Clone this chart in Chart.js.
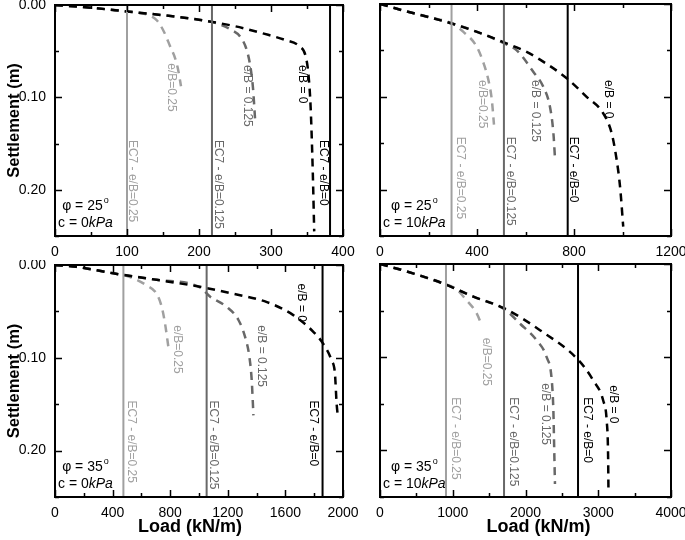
<!DOCTYPE html>
<html>
<head>
<meta charset="utf-8">
<script src="https://cdn.jsdelivr.net/npm/chart.js@4.4.0/dist/chart.umd.min.js"></script>
<style>
  html, body { margin: 0; padding: 0; background: #fff; }
  #wrap { position: relative; width: 685px; height: 540px; }
  canvas { position: absolute; }
</style>
</head>
<body>
<div id="wrap">
  <canvas id="tl" width="365" height="260" style="left:0;top:0"></canvas>
  <canvas id="tr" width="320" height="260" style="left:365px;top:0"></canvas>
  <canvas id="bl" width="365" height="280" style="left:0;top:260px"></canvas>
  <canvas id="br" width="320" height="280" style="left:365px;top:260px"></canvas>
</div>
<script>
const FONT = '"Liberation Sans", Arial, Helvetica, sans-serif';
Chart.defaults.font.family = FONT;
Chart.defaults.color = '#000';

// ---- data (load kN/m, settlement m) ----
// phi = 25, c = 0 kPa
const p25c0Load0 = [0, 50, 100, 150, 200, 250, 290, 320, 340, 348, 352, 355, 358, 360];
const p25c0Set0 = [0, 0.003, 0.007, 0.011, 0.016, 0.023, 0.031, 0.038, 0.045, 0.055, 0.075, 0.11, 0.18, 0.245];
const p25c0Load125 = [0, 50, 100, 150, 200, 225, 245, 258, 266, 271, 275, 278];
const p25c0Set125 = [0, 0.003, 0.007, 0.011, 0.016, 0.020, 0.027, 0.035, 0.048, 0.065, 0.09, 0.125];
const p25c0Load25 = [0, 50, 100, 130, 142, 152, 160, 167, 171, 175];
const p25c0Set25 = [0, 0.003, 0.007, 0.011, 0.017, 0.030, 0.045, 0.058, 0.070, 0.088];
const p25c0Ec7 = [382, 218, 100]; // e/B = 0, 0.125, 0.25

// phi = 25, c = 10 kPa
const p25c10Load0 = [0, 110, 200, 296, 400, 508, 600, 660, 770, 852, 921, 955, 976, 990, 1003];
const p25c10Set0 = [0, 0.008, 0.014, 0.021, 0.030, 0.041, 0.051, 0.060, 0.080, 0.100, 0.118, 0.139, 0.168, 0.197, 0.240];
const p25c10Load125 = [0, 110, 200, 296, 400, 508, 564, 632, 673, 701, 715, 722];
const p25c10Set125 = [0, 0.008, 0.014, 0.021, 0.030, 0.042, 0.050, 0.073, 0.089, 0.111, 0.139, 0.168];
const p25c10Load25 = [0, 110, 200, 296, 344, 399, 426, 447, 461, 470];
const p25c10Set25 = [0, 0.008, 0.014, 0.021, 0.030, 0.046, 0.063, 0.082, 0.103, 0.130];
const p25c10Ec7 = [774, 511, 295];

// phi = 35, c = 0 kPa
const p35c0Load0 = [0, 150, 405, 706, 1007, 1238, 1472, 1655, 1794, 1863, 1921, 1944, 1956, 1965];
const p35c0Set0 = [0, 0.002, 0.009, 0.016, 0.0235, 0.031, 0.040, 0.054, 0.072, 0.085, 0.103, 0.117, 0.150, 0.164];
const p35c0Load125 = [0, 150, 405, 706, 1007, 1076, 1192, 1273, 1319, 1350, 1366, 1378];
const p35c0Set125 = [0, 0.002, 0.009, 0.016, 0.024, 0.034, 0.045, 0.059, 0.077, 0.099, 0.124, 0.162];
const p35c0Load25 = [0, 150, 405, 500, 567, 637, 706, 741, 764, 787];
const p35c0Set25 = [0, 0.002, 0.009, 0.012, 0.016, 0.022, 0.031, 0.045, 0.063, 0.088];
const p35c0Ec7 = [1858, 1053, 475];

// phi = 35, c = 10 kPa
const p35c10Load0 = [0, 367, 870, 1283, 1718, 2199, 2726, 2932, 3070, 3116, 3135, 3140];
const p35c10Set0 = [0, 0.008, 0.021, 0.035, 0.048, 0.071, 0.103, 0.125, 0.147, 0.168, 0.204, 0.240];
const p35c10Load125 = [0, 367, 870, 1283, 1718, 1924, 2154, 2291, 2360, 2383, 2395, 2405];
const p35c10Set125 = [0, 0.008, 0.021, 0.035, 0.049, 0.064, 0.082, 0.100, 0.124, 0.157, 0.200, 0.236];
const p35c10Load25 = [0, 367, 870, 1031, 1191, 1329, 1400];
const p35c10Set25 = [0, 0.008, 0.021, 0.026, 0.039, 0.053, 0.066];
const p35c10Ec7 = [2722, 1705, 907];

const curveNames = ['e/B = 0', 'e/B = 0.125', 'e/B=0.25'];
const ec7Names = ['EC7 - e/B=0', 'EC7 - e/B=0.125', 'EC7 - e/B=0.25'];
const colors = ['#000000', '#686868', '#a0a0a0'];

function pts(xs, ys) {
    return xs.map((x, i) => ({ x: x, y: ys[i] }));
}

// frame, inward ticks, rotated labels and soil parameters
const framePlugin = {
    id: 'frame',
    afterDatasetsDraw(chart, args, o) {
        const ctx = chart.ctx;
        const a = chart.chartArea;
        const xs = chart.scales.x, ys = chart.scales.y;
        ctx.save();
        ctx.strokeStyle = '#000';
        ctx.lineWidth = 1.5;
        ctx.beginPath();
        xs.ticks.forEach(t => {
            const px = Math.round(xs.getPixelForValue(t.value)) + 0.5;
            const len = t.value % o.xMajor === 0 ? 7 : 4;
            ctx.moveTo(px, a.bottom); ctx.lineTo(px, a.bottom - len);
            ctx.moveTo(px, a.top); ctx.lineTo(px, a.top + len);
        });
        ys.ticks.forEach(t => {
            const py = Math.round(ys.getPixelForValue(t.value)) + 0.5;
            const len = Math.round(t.value * 100) % 10 === 0 ? 7 : 4;
            ctx.moveTo(a.left, py); ctx.lineTo(a.left + len, py);
            ctx.moveTo(a.right, py); ctx.lineTo(a.right - len, py);
        });
        ctx.stroke();
        ctx.lineWidth = 2;
        ctx.strokeRect(a.left, a.top, a.right - a.left, a.bottom - a.top);

        // rotated labels
        ctx.font = '12px ' + FONT;
        ctx.textAlign = 'left';
        ctx.textBaseline = 'middle';
        o.labels.forEach(l => {
            ctx.save();
            ctx.translate(xs.getPixelForValue(l[1]), ys.getPixelForValue(l[2]));
            ctx.rotate(Math.PI / 2);
            ctx.fillStyle = l[3];
            ctx.fillText(l[0], 0, 0);
            ctx.restore();
        });

        // phi / c
        ctx.fillStyle = '#000';
        const big = '14px ' + FONT;
        const small = '9px ' + FONT;
        const ital = 'italic 14px ' + FONT;
        ctx.font = big;
        const l1 = 'φ = ' + o.phi;
        const l2 = 'c = ' + o.c;
        const w1 = ctx.measureText(l1).width;
        const w2 = ctx.measureText(l2).width;
        ctx.font = small;
        const wo = ctx.measureText('o').width;
        ctx.font = ital;
        const wk = ctx.measureText('kPa').width;
        const cx = a.left + 3 + (w2 + wk) / 2;
        let x1 = cx - (w1 + wo + 1) / 2;
        ctx.font = big;
        ctx.fillText(l1, x1, a.bottom - 30);
        ctx.font = small;
        ctx.fillText('o', x1 + w1 + 1, a.bottom - 35);
        let x2 = cx - (w2 + wk) / 2;
        ctx.font = big;
        ctx.fillText(l2, x2, a.bottom - 13);
        ctx.font = ital;
        ctx.fillText('kPa', x2 + w2, a.bottom - 13);

        // x axis title (bottom row only)
        if (o.xTitle) {
            ctx.font = 'bold 18px ' + FONT;
            ctx.textAlign = 'center';
            ctx.fillText('Load (kN/m)', (a.left + a.right) / 2 + o.xTitleShift, a.bottom + 30);
        }
        ctx.restore();
    }
};

function makePanel(id, p) {
    const datasets = [];
    p.ec7.forEach((v, i) => {
        datasets.push({
            data: [{ x: v, y: 0 }, { x: v, y: 0.25 }],
            borderColor: colors[i],
            borderWidth: 2,
            pointRadius: 0
        });
    });
    p.curves.forEach((c, i) => {
        datasets.push({
            data: pts(c[0], c[1]),
            borderColor: colors[i],
            borderWidth: 2.5,
            borderDash: [8, 6],
            pointRadius: 0,
            cubicInterpolationMode: 'monotone'
        });
    });
    const labels = [];
    p.curveLabels.forEach((l, i) => labels.push([curveNames[i], l[0], l[1], colors[i]]));
    p.ec7Labels.forEach((l, i) => labels.push([ec7Names[i], l[0], l[1], colors[i]]));

    new Chart(document.getElementById(id), {
        type: 'line',
        data: { datasets: datasets },
        plugins: [framePlugin],
        options: {
            responsive: false,
            animation: false,
            layout: { autoPadding: false, padding: p.padding },
            plugins: {
                legend: { display: false },
                tooltip: { enabled: false },
                frame: {
                    xMajor: p.xMajor, labels: labels, phi: p.phi, c: p.c,
                    xTitle: p.xTitle, xTitleShift: p.xTitleShift
                }
            },
            scales: {
                x: {
                    type: 'linear',
                    min: 0,
                    max: p.xMax,
                    grid: { display: false, drawTicks: false },
                    border: { display: false },
                    ticks: {
                        stepSize: p.xStep,
                        autoSkip: false,
                        maxRotation: 0,
                        padding: 8,
                        font: { size: 14 },
                        callback: v => (v % p.xMajor === 0 ? String(v) : '')
                    },
                    afterFit: s => {
                        s.height = p.xHeight;
                        s.paddingLeft = 0; s.paddingRight = 0;
                    }
                },
                y: {
                    type: 'linear',
                    reverse: true,
                    min: 0,
                    max: 0.25,
                    grid: { display: false, drawTicks: false },
                    border: { display: false },
                    ticks: {
                        display: p.yLabels,
                        stepSize: 0.05,
                        autoSkip: false,
                        padding: 9,
                        font: { size: 14 },
                        callback: v => (Math.round(v * 100) % 10 === 0 ? v.toFixed(2) : '')
                    },
                    title: {
                        display: p.yLabels,
                        text: 'Settlement (m)',
                        font: { size: 16.5, weight: 'bold' },
                        padding: { top: 5, bottom: 0 }
                    },
                    afterFit: s => {
                        s.width = p.yWidth;
                        s.paddingTop = 0; s.paddingBottom = 0;
                    }
                }
            }
        }
    });
}

makePanel('tl', {
    curves: [[p25c0Load0, p25c0Set0], [p25c0Load125, p25c0Set125], [p25c0Load25, p25c0Set25]],
    ec7: p25c0Ec7,
    curveLabels: [[343, 0.065], [267, 0.065], [162, 0.063]],
    ec7Labels: [[372, 0.146], [227, 0.146], [108, 0.146]],
    xMax: 400, xStep: 50, xMajor: 100,
    phi: '25', c: '0',
    padding: { left: 0, top: 5, right: 22, bottom: 0 },
    yWidth: 55, xHeight: 24, yLabels: true, xTitle: false, xTitleShift: 0
});

makePanel('tr', {
    curves: [[p25c10Load0, p25c10Set0], [p25c10Load125, p25c10Set125], [p25c10Load25, p25c10Set25]],
    ec7: p25c10Ec7,
    curveLabels: [[940, 0.082], [639, 0.082], [421, 0.082]],
    ec7Labels: [[796, 0.143], [536, 0.143], [330, 0.143]],
    xMax: 1200, xStep: 200, xMajor: 400,
    phi: '25', c: '10',
    padding: { left: 0, top: 4, right: 14, bottom: 0 },
    yWidth: 15, xHeight: 24, yLabels: false, xTitle: false, xTitleShift: 0
});

makePanel('bl', {
    curves: [[p35c0Load0, p35c0Set0], [p35c0Load125, p35c0Set125], [p35c0Load25, p35c0Set25]],
    ec7: p35c0Ec7,
    curveLabels: [[1713, 0.020], [1436, 0.065], [847, 0.065]],
    ec7Labels: [[1794, 0.146], [1100, 0.146], [533, 0.146]],
    xMax: 2000, xStep: 200, xMajor: 400,
    phi: '35', c: '0',
    padding: { left: 0, top: 5, right: 22, bottom: 0 },
    yWidth: 55, xHeight: 43, yLabels: true, xTitle: true, xTitleShift: -9
});

makePanel('br', {
    curves: [[p35c10Load0, p35c10Set0], [p35c10Load125, p35c10Set125], [p35c10Load25, p35c10Set25]],
    ec7: p35c10Ec7,
    curveLabels: [[3203, 0.130], [2268, 0.128], [1466, 0.079]],
    ec7Labels: [[2845, 0.143], [1828, 0.143], [1031, 0.143]],
    xMax: 4000, xStep: 500, xMajor: 1000,
    phi: '35', c: '10',
    padding: { left: 0, top: 4, right: 14, bottom: 0 },
    yWidth: 15, xHeight: 43, yLabels: false, xTitle: true, xTitleShift: 13
});
</script>
</body>
</html>
